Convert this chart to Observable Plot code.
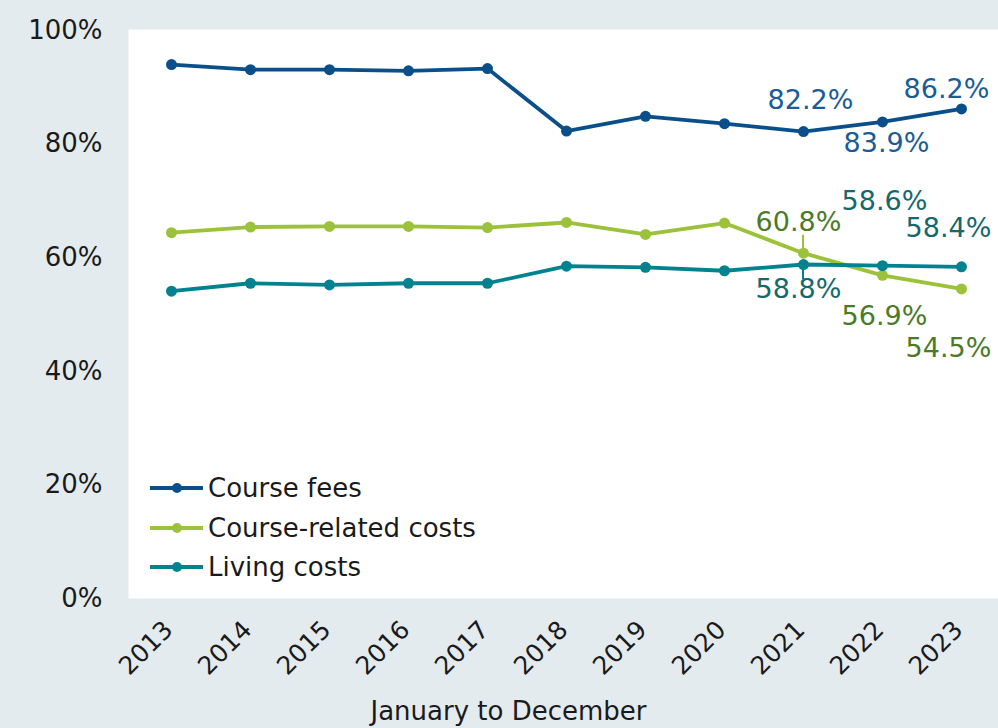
<!DOCTYPE html>
<html>
<head>
<meta charset="utf-8">
<script src="https://cdn.jsdelivr.net/npm/d3@7"></script>
<script src="https://cdn.jsdelivr.net/npm/@observablehq/plot@0.6"></script>
<style>
  html, body { margin: 0; padding: 0; background: #e4ebef; }
  #chart { width: 998px; height: 728px; }
</style>
</head>
<body>
<div id="chart"></div>
<script>
const years = ["2013","2014","2015","2016","2017","2018","2019","2020","2021","2022","2023"];
const courseFees    = [94.0, 93.1, 93.1, 92.9, 93.3, 82.3, 84.9, 83.6, 82.2, 83.9, 86.2];
const courseRelated = [64.4, 65.4, 65.5, 65.5, 65.3, 66.2, 64.1, 66.1, 60.8, 56.9, 54.5];
const livingCosts   = [54.1, 55.5, 55.2, 55.5, 55.5, 58.5, 58.3, 57.7, 58.8, 58.6, 58.4];
const seriesNames = ["Course fees", "Course-related costs", "Living costs"];
const yTicks = [0, 20, 40, 60, 80, 100];
const xTitle = "January to December";

const lineColors  = ["#0a4f8a", "#9cc23c", "#00838f"];
const labelColors = ["#1b5c96", "#4b7a28", "#14696c"];
const seriesValues = [courseFees, courseRelated, livingCosts];

const rows = [];
seriesNames.forEach((s, i) => years.forEach((y, j) => rows.push({series: s, year: y, value: seriesValues[i][j]})));

// label offsets (layout only) for the last three years
const labelOffsets = {
  "Course fees":          {"2021": [7, -31], "2022": [4, 21],  "2023": [-15, -20]},
  "Course-related costs": {"2021": [-5, -31], "2022": [2, 41], "2023": [-13, 59]},
  "Living costs":         {"2021": [-5, 25], "2022": [2, -64], "2023": [-13, -38]}
};

const font = "DejaVu Sans, Verdana, sans-serif";
const marks = [
  Plot.frame({fill: "white", stroke: null, insetTop: -1}),
  Plot.axisY({ticks: yTicks, tickFormat: d => d + "%", tickSize: 0, tickPadding: 26, fontSize: 26, label: null}),
  Plot.axisX({tickRotate: -45, tickSize: 0, tickPadding: 27, dx: -3, fontSize: 25, label: null}),
  Plot.text([xTitle], {frameAnchor: "bottom", text: d => d, dx: -55, dy: 113, fontSize: 26, fill: "#1a1a1a", lineAnchor: "middle"})
];
seriesNames.forEach((s, i) => {
  const d = rows.filter(r => r.series === s);
  marks.push(Plot.line(d, {x: "year", y: "value", stroke: lineColors[i], strokeWidth: 3.8}));
  marks.push(Plot.dot(d, {x: "year", y: "value", fill: lineColors[i], r: 5.5}));
});
seriesNames.forEach((s, i) => {
  const offs = labelOffsets[s];
  Object.keys(offs).forEach(yr => {
    const d = rows.filter(r => r.series === s && r.year === yr);
    marks.push(Plot.text(d, {x: "year", y: "value", text: r => r.value.toFixed(1) + "%",
      dx: offs[yr][0], dy: offs[yr][1], fill: labelColors[i], fontSize: 27, lineAnchor: "middle"}));
  });
});

const plot = Plot.plot({
  width: 998, height: 728,
  marginLeft: 128, marginRight: 0, marginTop: 30, marginBottom: 130,
  style: {background: "transparent", fontFamily: font, color: "#1a1a1a"},
  x: {type: "point", domain: years, range: [168, 963], padding: 0},
  y: {domain: [0, 100]},
  marks
});

const svg = d3.select(plot);
const xs = plot.scale("x"), ys = plot.scale("y");
// leader lines for 2021 labels
const lx = xs.apply("2021");
const yRel = ys.apply(courseRelated[8]);
const yLiv = ys.apply(livingCosts[8]);
svg.append("line").attr("x1", lx).attr("x2", lx).attr("y1", yRel).attr("y2", yRel - 18)
  .attr("stroke", lineColors[1]).attr("stroke-width", 2);
svg.append("line").attr("x1", lx).attr("x2", lx).attr("y1", yLiv).attr("y2", yLiv + 15)
  .attr("stroke", lineColors[2]).attr("stroke-width", 2);

// legend
const legendY = [488, 528, 567];
seriesNames.forEach((s, i) => {
  const g = svg.append("g");
  g.append("line").attr("x1", 150).attr("x2", 203).attr("y1", legendY[i]).attr("y2", legendY[i])
    .attr("stroke", lineColors[i]).attr("stroke-width", 3.8);
  g.append("circle").attr("cx", 177).attr("cy", legendY[i]).attr("r", 5).attr("fill", lineColors[i]);
  g.append("text").attr("x", 208).attr("y", legendY[i]).attr("dy", "0.35em")
    .attr("text-anchor", "start")
    .attr("font-size", 26).attr("font-family", font).attr("fill", "#1a1a1a").text(s);
});

document.getElementById("chart").appendChild(plot);
</script>
</body>
</html>
